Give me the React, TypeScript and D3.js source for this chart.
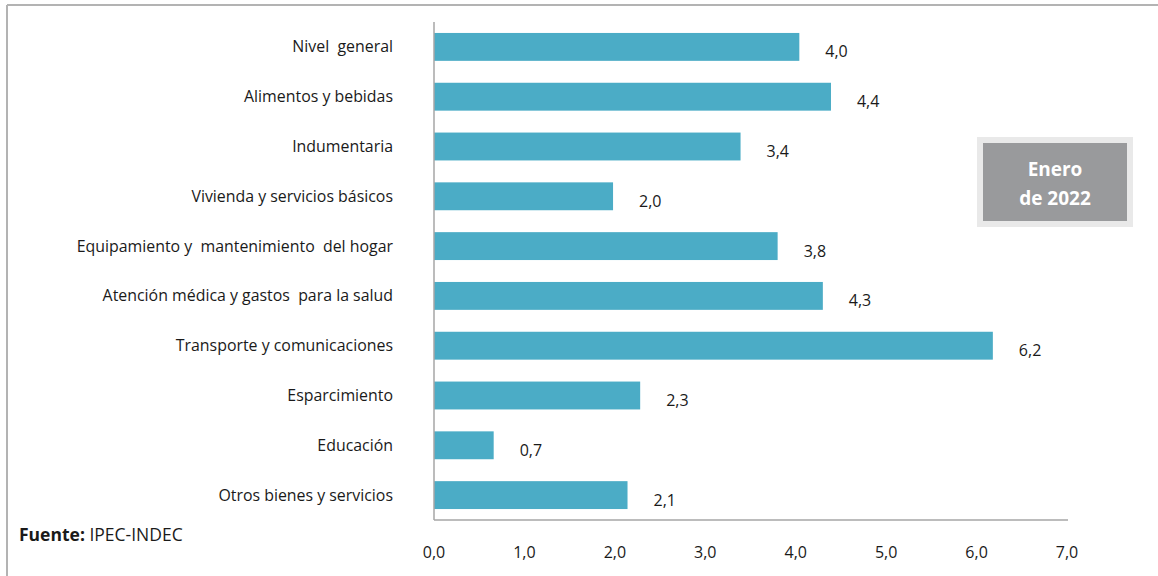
import React from "react";
import * as d3 from "d3";

const categories = [
  "Nivel  general",
  "Alimentos y bebidas",
  "Indumentaria",
  "Vivienda y servicios básicos",
  "Equipamiento y  mantenimiento  del hogar",
  "Atención médica y gastos  para la salud",
  "Transporte y comunicaciones",
  "Esparcimiento",
  "Educación",
  "Otros bienes y servicios",
];
const values = [4.04, 4.39, 3.39, 1.98, 3.8, 4.3, 6.18, 2.28, 0.66, 2.14];
const ticks = [0, 1, 2, 3, 4, 5, 6, 7];

const fmt = (v: number) => (Math.round(v * 10) / 10).toFixed(1).replace(".", ",");

export default function App() {
  const W = 1158, H = 576;
  const x = d3.scaleLinear().domain([0, 7]).range([434, 1067]);
  const y = d3.scaleBand<string>().domain(categories).range([22, 520]).paddingInner(0.44).paddingOuter(0.22);
  const font = "'Open Sans', sans-serif";
  return (
    <svg width={W} height={H} style={{ position: "absolute", left: 0, top: 0 }}>
      <rect x={0} y={0} width={W} height={H} fill="#fff" />
      <line x1={7} y1={5} x2={W} y2={5} stroke="#b3b3b3" strokeWidth={2} />
      <line x1={7} y1={5} x2={7} y2={H} stroke="#b3b3b3" strokeWidth={2} />
      {categories.map((c, i) => {
        const yc = (y(c) as number) + y.bandwidth() / 2;
        return (
          <g key={c}>
            <rect x={x(0)} y={y(c)} width={x(values[i]) - x(0)} height={y.bandwidth()} fill="#4BACC6" />
            <text x={393} y={yc + 5.5} textAnchor="end" fontFamily={font} fontSize={15.9} fill="#1a1a1a" style={{ whiteSpace: "pre" }}>{c}</text>
            <text x={x(values[i]) + 26} y={yc + 10.5} fontFamily={font} fontSize={16} fill="#1a1a1a">{fmt(values[i])}</text>
          </g>
        );
      })}
      <line x1={434} y1={22} x2={434} y2={520} stroke="#a6a6a6" strokeWidth={1.5} />
      <line x1={434} y1={520} x2={1068} y2={520} stroke="#a6a6a6" strokeWidth={1.5} />
      {ticks.map((t) => (
        <text key={t} x={x(t)} y={558} textAnchor="middle" fontFamily={font} fontSize={16} fill="#1a1a1a">{fmt(t)}</text>
      ))}
      <rect x={977} y={137} width={156} height={90} fill="#e9e9e9" />
      <rect x={983} y={143} width={144} height={78} fill="#999a9c" />
      <text x={1055} y={176} textAnchor="middle" fontFamily={font} fontSize={19} fontWeight="bold" fill="#fff">Enero</text>
      <text x={1055} y={205} textAnchor="middle" fontFamily={font} fontSize={19} fontWeight="bold" fill="#fff">de 2022</text>
      <text x={19} y={541} fontFamily={font} fontSize={17.5} fill="#1a1a1a">
        <tspan fontWeight="bold">Fuente:</tspan> IPEC-INDEC
      </text>
    </svg>
  );
}
